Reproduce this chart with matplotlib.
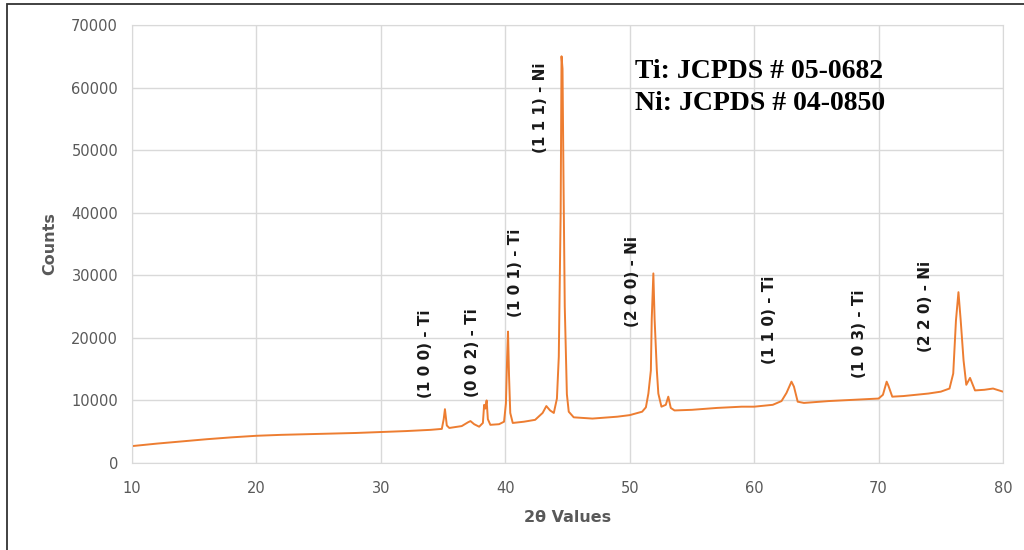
import matplotlib
matplotlib.use("Agg")
import matplotlib.pyplot as plt
from matplotlib.patches import Rectangle

two_theta = [10.0, 12.0, 14.0, 16.0, 18.0, 20.0, 22.0, 24.0, 26.0, 28.0, 30.0, 32.0, 34.0,
             34.9, 35.05, 35.15, 35.3, 35.5, 36.5, 37.0, 37.2, 37.5, 37.9, 38.2, 38.3, 38.4,
             38.5, 38.6, 38.8, 39.5, 39.9, 40.05, 40.15, 40.22, 40.3, 40.4, 40.6, 41.5, 42.4,
             43.0, 43.3, 43.6, 43.9, 44.15, 44.3, 44.45, 44.52, 44.6, 44.68, 44.78, 44.95,
             45.1, 45.5, 47.0, 49.0, 50.0, 51.0, 51.3, 51.5, 51.7, 51.77, 51.9, 52.0, 52.18,
             52.3, 52.55, 52.9, 53.1, 53.3, 53.6, 55.0, 57.0, 59.0, 60.0, 61.5, 62.2, 62.6,
             63.0, 63.2, 63.5, 64.0, 66.0, 68.0, 70.0, 70.35, 70.65, 70.8, 71.1, 72.0, 74.0,
             75.0, 75.7, 76.0, 76.22, 76.42, 76.6, 76.83, 77.05, 77.35, 77.75, 78.5, 79.2, 80.0]
counts = [2700, 3100, 3450, 3800, 4100, 4350, 4500, 4600, 4700, 4800, 4950, 5100, 5300,
          5450, 7000, 8600, 6000, 5600, 5900, 6500, 6700, 6200, 5800, 6400, 9300, 8700,
          10000, 7000, 6100, 6200, 6600, 9500, 17000, 21000, 14000, 8000, 6400, 6600, 6900,
          8000, 9100, 8400, 8000, 10300, 17000, 40000, 65000, 63000, 45000, 25000, 11000,
          8200, 7300, 7100, 7400, 7650, 8200, 8900, 11100, 14800, 23000, 30300, 23000, 14800,
          11100, 9000, 9300, 10600, 8800, 8400, 8500, 8800, 9000, 9000, 9300, 9900, 11200,
          13000, 12200, 9800, 9600, 9900, 10100, 10300, 10900, 13000, 12300, 10600, 10700, 11100,
          11400, 11900, 14300, 22800, 27300, 22800, 16400, 12500, 13600, 11600, 11700, 11900, 11400]

peak_labels = ["(1 0 0) - Ti", "(0 0 2) - Ti", "(1 0 1) - Ti", "(1 1 1) - Ni",
               "(2 0 0) - Ni", "(1 1 0) - Ti", "(1 0 3) - Ti", "(2 2 0) - Ni"]
label_x = [33.6, 37.4, 40.8, 42.8, 50.2, 61.2, 68.5, 73.75]
label_y = [10400, 10500, 23300, 49600, 21700, 15900, 13600, 17700]

xticks = [10, 20, 30, 40, 50, 60, 70, 80]
yticks = [0, 10000, 20000, 30000, 40000, 50000, 60000, 70000]
ref_text = ["Ti: JCPDS # 05-0682", "Ni: JCPDS # 04-0850"]

fig = plt.figure(figsize=(10.24, 5.5), dpi=100)
ax = fig.add_axes([132/1024, 1-463/550, (1003-132)/1024, (463-25)/550])

ax.plot(two_theta, counts, color="#ED7D31", lw=1.4)
ax.set_xlim(10, 80)
ax.set_ylim(0, 70000)
ax.set_xticks(xticks)
ax.set_yticks(yticks)
ax.grid(True, color="#d9d9d9", lw=1)
ax.set_axisbelow(True)
for s in ax.spines.values():
    s.set_color("#d9d9d9")
ax.tick_params(length=0, labelsize=10.5, labelcolor="#595959")
ax.tick_params(axis="x", pad=13)
ax.tick_params(axis="y", pad=10)
ax.set_xlabel("2θ Values", fontsize=11.5, fontweight="bold", color="#595959", labelpad=10)
ax.set_ylabel("Counts", fontsize=11.5, fontweight="bold", color="#595959", labelpad=10)

for t, x, y in zip(peak_labels, label_x, label_y):
    ax.text(x, y, t, rotation=90, ha="center", va="bottom", fontsize=11,
            fontweight="bold", color="#1a1a1a")

fig.text(635/1024, 1-72/550, ref_text[0], family="Liberation Serif", fontweight="bold",
         fontsize=20, va="center", ha="left", color="black")
fig.text(635/1024, 1-104/550, ref_text[1], family="Liberation Serif", fontweight="bold",
         fontsize=20, va="center", ha="left", color="black")

fig.patches.append(Rectangle((7/1024, -0.1), 1.2, 1-4/550+0.1, transform=fig.transFigure,
                             fill=False, edgecolor="#333333", lw=1.3))

fig.savefig("out.png", dpi=100)
